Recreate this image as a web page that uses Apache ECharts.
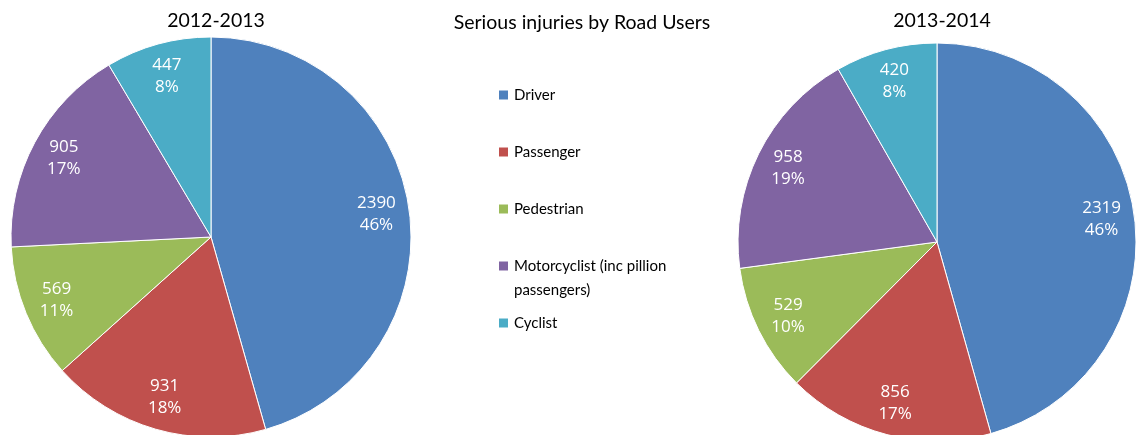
<!DOCTYPE html>
<html>
<head>
<meta charset="utf-8">
<script src="https://cdn.jsdelivr.net/npm/echarts@6/dist/echarts.min.js"></script>
<style>
html,body{margin:0;padding:0;background:#fff;}
#chart{width:1136px;height:435px;}
</style>
</head>
<body>
<div id="chart"></div>
<script>
const chartTitle = 'Serious injuries by Road Users';
const categories = ['Driver', 'Passenger', 'Pedestrian', 'Motorcyclist (inc pillion passengers)', 'Cyclist'];
const legendLabels = ['Driver', 'Passenger', 'Pedestrian', 'Motorcyclist (inc pillion\npassengers)', 'Cyclist'];
const colors = ['#4F81BD', '#C0504D', '#9BBB59', '#8064A2', '#4BACC6'];
const periods = ['2012-2013', '2013-2014'];
const values2012 = [2390, 931, 569, 905, 447];
const values2013 = [2319, 856, 529, 958, 420];

const pies = [
  { title: periods[0], values: values2012, cx: 211, cy: 237, r: 200 },
  { title: periods[1], values: values2013, cx: 937, cy: 242, r: 199 }
];

const chart = echarts.init(document.getElementById('chart'), null, { renderer: 'canvas' });

const series = [];
pies.forEach(p => {
  series.push({
    type: 'pie',
    center: [p.cx, p.cy],
    radius: [0, p.r],
    startAngle: 90,
    clockwise: true,
    percentPrecision: 0,
    label: { show: false },
    labelLine: { show: false },
    emphasis: { disabled: true },
    itemStyle: { borderColor: '#ffffff', borderWidth: 1 },
    data: categories.map((c, i) => ({ name: c, value: p.values[i], itemStyle: { color: colors[i] } }))
  });
});
// transparent overlays used only to place labels at ~0.82 of the radius
pies.forEach(p => {
  series.push({
    type: 'pie',
    center: [p.cx, p.cy],
    radius: [0, p.r * 1.64],
    startAngle: 90,
    clockwise: true,
    percentPrecision: 0,
    silent: true,
    avoidLabelOverlap: false,
    emphasis: { disabled: true },
    itemStyle: { color: 'rgba(0,0,0,0)', borderWidth: 0 },
    label: {
      show: true,
      position: 'inside',
      formatter: '{c}\n{d}%',
      color: '#ffffff',
      fontFamily: 'Open Sans',
      fontSize: 17,
      lineHeight: 22,
      align: 'center'
    },
    labelLine: { show: false },
    data: categories.map((c, i) => ({ name: c, value: p.values[i] }))
  });
});

const legendCenters = [95, 152, 209, 266, 323];
const legendLine = 24;
const legends = categories.map((c, i) => {
  const multi = legendLabels[i].indexOf('\n') >= 0;
  const h = multi ? legendLine * 3 : legendLine;
  return {
    data: [c],
    left: 497,
    top: legendCenters[i] - h / 2,
    orient: 'vertical',
    padding: 0,
    itemWidth: 11,
    itemHeight: 11,
    itemGap: 0,
    icon: 'rect',
    selectedMode: false,
    formatter: () => multi ? '\n' + legendLabels[i] : legendLabels[i],
    textStyle: { fontFamily: 'Lato', fontSize: 15, color: '#000', lineHeight: legendLine }
  };
});

const titleStyle = { fontFamily: 'Lato', fontSize: 19.5, fontWeight: 'normal', color: '#000' };
chart.setOption({
  animation: false,
  color: colors,
  title: [
    { text: chartTitle, left: 577, top: 8, textAlign: 'center', textStyle: titleStyle },
    { text: pies[0].title, left: pies[0].cx, top: 6, textAlign: 'center', textStyle: titleStyle },
    { text: pies[1].title, left: pies[1].cx, top: 6, textAlign: 'center', textStyle: titleStyle }
  ],
  legend: legends,
  series: series
});
</script>
</body>
</html>
